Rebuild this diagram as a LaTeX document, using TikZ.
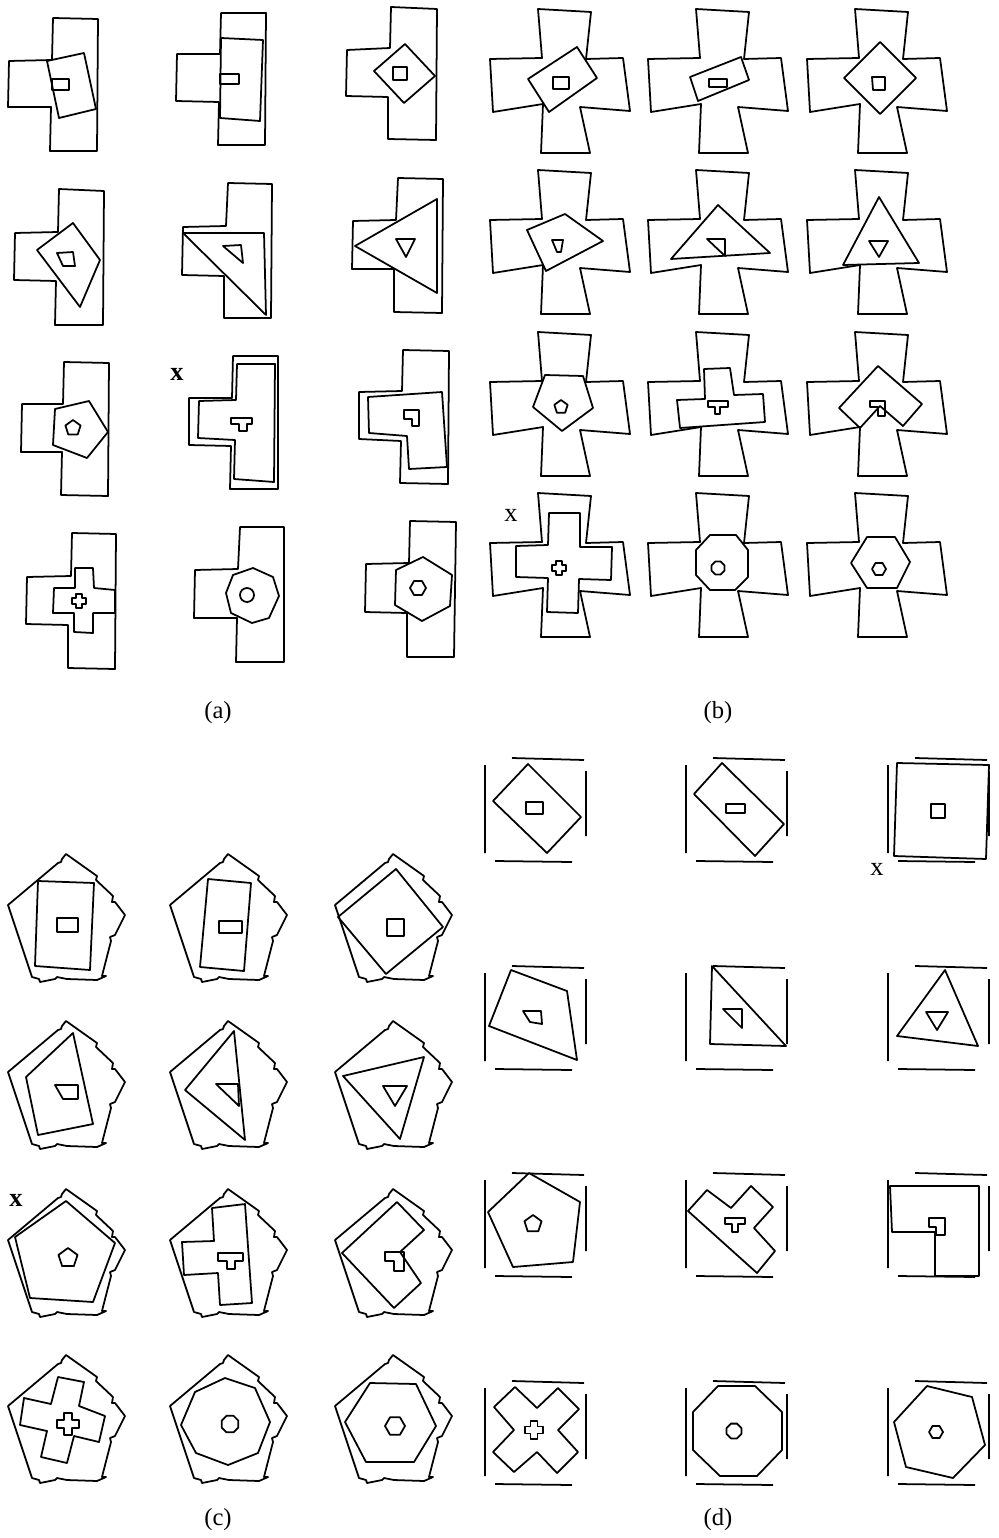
\documentclass[tikz,border=0pt]{standalone}
\usepackage{fontspec}
\setmainfont{Liberation Serif}

% container outlines, in pixels from the cell origin
\newcommand{\crossbox}{%
  \draw[wall] (58,9) -- (111,12) -- (106,59) -- (143,58) -- (150,111) -- (100,107)
    -- (110,153) -- (61,153) -- (63,104) -- (13,112) -- (10,59) -- (62,58) -- cycle;}
\newcommand{\pentbox}{%
  \draw[wall] (66,34) -- (97,56) -- (96,60) -- (113,76) -- (112,82) -- (115,82)
    -- (125,95) -- (115,115) -- (110,117) -- (111,121) -- (103,152) -- (102,156)
    -- (106,156) -- (97,160) -- (67,159) -- (57,157) -- (55,159) -- (40,162)
    -- (39,159) -- (32,157) -- (8,85) -- (58,43) -- (61,42) -- (62,39) -- cycle;}
\newcommand{\squarebox}{%
  \draw[wall] (42,8) -- (114,10) (116,21) -- (116,86) (25,111) -- (102,112) (15,15) -- (15,103);}
% small regular polygon: centre, radius, sides, first angle
\newcommand{\holegon}[4]{%
  \draw[hole,shift={#1}] (#4:#2) \foreach \k in {1,...,#3}{ -- ({#4+\k*360/#3}:#2)} -- cycle;}
% small plus sign: centre, half width, half length
\newcommand{\holeplus}[3]{%
  \draw[hole,shift={#1}] (-#2,-#3) -- (#2,-#3) -- (#2,-#2) -- (#3,-#2) -- (#3,#2) -- (#2,#2)
    -- (#2,#3) -- (-#2,#3) -- (-#2,#2) -- (-#3,#2) -- (-#3,-#2) -- (-#2,-#2) -- cycle;}

\begin{document}
\begin{tikzpicture}[x=0.2mm,y=-0.2mm,
  wall/.style={line width=1pt,line join=round},
  piece/.style={line width=1pt,line join=round},
  hole/.style={line width=1pt,line join=round},
  tag/.style={font=\fontsize{14}{16}\selectfont},
  cue/.style={font=\fontsize{15}{17}\selectfont},
  boldcue/.style={font=\bfseries\fontsize{15}{17}\selectfont}]
  \useasboundingbox (0,0) rectangle (999,1538);

  % (a) T-shaped containers
  \draw[wall] (53,18) -- (98,19) -- (97,151) -- (50,151) -- (51,107) -- (8,107) -- (9,61) -- (52,60) -- cycle;
  \draw[piece] (47,61) -- (84,53) -- (96,109) -- (59,118) -- cycle;
  \draw[hole] (52,79) rectangle (69,90);

  \draw[wall] (221,13) -- (266,13) -- (265,145) -- (218,145) -- (219,102) -- (176,101) -- (177,54) -- (220,54) -- cycle;
  \draw[piece] (221,38) -- (263,40) -- (260,121) -- (220,118) -- cycle;
  \draw[hole] (220,74) rectangle (239,84);

  \draw[wall] (391,7) -- (437,9) -- (436,140) -- (388,139) -- (388,97) -- (346,96) -- (347,50) -- (390,48) -- cycle;
  \draw[piece] (405,44) -- (435,76) -- (404,103) -- (374,71) -- cycle;
  \draw[hole] (393,67) rectangle (407,80);

  \draw[wall] (59,189) -- (104,191) -- (103,325) -- (55,325) -- (56,281) -- (14,280) -- (15,233) -- (58,232) -- cycle;
  \draw[piece] (37,250) -- (73,223) -- (100,260) -- (80,307) -- cycle;
  \draw[hole] (57,253) -- (73,252) -- (75,266) -- (63,266) -- cycle;

  \draw[wall] (228,183) -- (272,184) -- (271,318) -- (224,318) -- (224,276) -- (182,275) -- (183,227) -- (226,226) -- cycle;
  \draw[piece] (183,233) -- (264,233) -- (266,315) -- cycle;
  \draw[hole] (223,246) -- (241,245) -- (243,263) -- cycle;

  \draw[wall] (398,178) -- (443,179) -- (442,313) -- (394,312) -- (394,269) -- (352,269) -- (353,221) -- (396,220) -- cycle;
  \draw[piece] (437,199) -- (355,246) -- (437,293) -- cycle;
  \draw[hole] (396,239) -- (415,239) -- (406,257) -- cycle;

  \draw[wall] (64,362) -- (109,363) -- (108,496) -- (61,495) -- (62,452) -- (21,452) -- (22,404) -- (63,404) -- cycle;
  \draw[piece] (55,409) -- (89,401) -- (108,432) -- (87,458) -- (53,445) -- cycle;
  \holegon{(73,428)}{8}{5}{-90}

  \node[boldcue] (xa) at (177,374) {x};
  \draw[wall] (233,356) -- (278,356) -- (278,489) -- (230,489) -- (231,446) -- (189,445) -- (189,398) -- (232,398) -- cycle;
  \draw[piece] (237,364) -- (275,364) -- (274,482) -- (234,479) -- (235,440) -- (198,438) -- (199,401) -- (236,400) -- cycle;
  \draw[hole] (231,418) -- (252,418) -- (252,424) -- (247,424) -- (247,431) -- (239,431) -- (239,424) -- (231,424) -- cycle;

  \draw[wall] (403,350) -- (449,351) -- (448,484) -- (400,483) -- (401,441) -- (359,439) -- (359,392) -- (402,391) -- cycle;
  \draw[piece] (368,397) -- (442,392) -- (447,467) -- (409,469) -- (407,436) -- (369,433) -- cycle;
  \draw[hole] (404,410) -- (419,410) -- (419,426) -- (412,426) -- (412,419) -- (404,419) -- cycle;

  \draw[wall] (72,533) -- (116,534) -- (115,669) -- (68,668) -- (68,625) -- (26,624) -- (27,577) -- (71,576) -- cycle;
  \draw[piece] (75,568) -- (93,568) -- (94,588) -- (115,590) -- (115,613) -- (93,613) -- (93,633) -- (74,632)
    -- (74,613) -- (53,613) -- (54,588) -- (75,588) -- cycle;
  \holeplus{(79,601)}{3}{7}

  \draw[wall] (240,527) -- (284,527) -- (284,662) -- (236,662) -- (237,618) -- (194,618) -- (195,570) -- (238,569) -- cycle;
  \draw[piece] (253,568) -- (273,577) -- (279,596) -- (269,618) -- (252,623) -- (231,613) -- (226,593) -- (233,575) -- cycle;
  \draw[hole] (247,595) circle[radius=7];

  \draw[wall] (410,521) -- (456,522) -- (454,657) -- (407,657) -- (407,613) -- (365,612) -- (366,564) -- (409,563) -- cycle;
  \draw[piece] (423,557) -- (452,575) -- (450,606) -- (422,621) -- (395,605) -- (396,570) -- cycle;
  \holegon{(418,588)}{8}{6}{0}

  % (b) cross containers
  \begin{scope}[shift={(480,0)}]
    \crossbox
    \draw[piece] (48,79) -- (97,47) -- (117,78) -- (69,112) -- cycle;
    \draw[hole] (73,77) rectangle (89,89);
  \end{scope}
  \begin{scope}[shift={(638,0)}]
    \crossbox
    \draw[piece] (52,77) -- (103,57) -- (111,80) -- (60,101) -- cycle;
    \draw[hole] (71,79) rectangle (89,87);
  \end{scope}
  \begin{scope}[shift={(797,0)}]
    \crossbox
    \draw[piece] (83,42) -- (119,78) -- (83,114) -- (47,78) -- cycle;
    \draw[hole] (75,77) -- (88,77) -- (88,90) -- (76,90) -- cycle;
  \end{scope}

  \begin{scope}[shift={(480,161)}]
    \crossbox
    \draw[piece] (47,69) -- (85,53) -- (123,80) -- (66,110) -- cycle;
    \draw[hole] (72,79) -- (83,79) -- (81,91) -- (77,91) -- cycle;
  \end{scope}
  \begin{scope}[shift={(638,161)}]
    \crossbox
    \draw[piece] (80,44) -- (132,92) -- (33,98) -- cycle;
    \draw[hole] (69,78) -- (87,78) -- (87,95) -- cycle;
  \end{scope}
  \begin{scope}[shift={(797,161)}]
    \crossbox
    \draw[piece] (82,36) -- (122,102) -- (46,104) -- cycle;
    \draw[hole] (72,80) -- (91,80) -- (82,96) -- cycle;
  \end{scope}

  \begin{scope}[shift={(480,323)}]
    \crossbox
    \draw[piece] (65,52) -- (103,53) -- (113,85) -- (82,108) -- (53,84) -- cycle;
    \holegon{(81,84)}{7}{5}{-90}
  \end{scope}
  \begin{scope}[shift={(638,323)}]
    \crossbox
    \draw[piece] (66,46) -- (92,45) -- (96,72) -- (125,71) -- (127,99) -- (42,105) -- (39,77) -- (67,76) -- cycle;
    \draw[hole] (70,78) -- (90,78) -- (90,84) -- (82,84) -- (82,91) -- (77,91) -- (77,84) -- (70,84) -- cycle;
  \end{scope}
  \begin{scope}[shift={(797,323)}]
    \crossbox
    \draw[piece] (42,85) -- (81,43) -- (125,81) -- (106,103) -- (83,83) -- (63,105) -- cycle;
    \draw[hole] (73,78) -- (88,78) -- (88,93) -- (81,93) -- (81,84) -- (73,84) -- cycle;
  \end{scope}

  \begin{scope}[shift={(480,484)}]
    \node[cue] (xb) at (31,31) {x};
    \crossbox
    \draw[piece] (69,29) -- (100,29) -- (100,63) -- (132,63) -- (131,96) -- (99,95) -- (98,129) -- (67,128)
      -- (68,94) -- (36,93) -- (36,62) -- (68,61) -- cycle;
    \holeplus{(79,84)}{3}{7}
  \end{scope}
  \begin{scope}[shift={(638,484)}]
    \crossbox
    \draw[piece] (72,51) -- (98,51) -- (110,66) -- (110,93) -- (97,106) -- (72,106) -- (58,91) -- (58,66) -- cycle;
    \holegon{(80,84)}{7}{8}{22.5}
  \end{scope}
  \begin{scope}[shift={(797,484)}]
    \crossbox
    \draw[piece] (70,53) -- (98,53) -- (113,78) -- (100,104) -- (70,104) -- (54,79) -- cycle;
    \holegon{(82,85)}{7}{6}{0}
  \end{scope}

  % (c) jagged pentagon containers
  \begin{scope}[shift={(0,820)}]
    \pentbox
    \draw[piece] (38,61) -- (94,63) -- (90,150) -- (35,146) -- cycle;
    \draw[hole] (57,98) rectangle (78,112);
  \end{scope}
  \begin{scope}[shift={(162,820)}]
    \pentbox
    \draw[piece] (46,59) -- (89,63) -- (82,151) -- (38,147) -- cycle;
    \draw[hole] (57,101) rectangle (80,113);
  \end{scope}
  \begin{scope}[shift={(327,820)}]
    \pentbox
    \draw[piece] (11,97) -- (69,49) -- (116,107) -- (59,154) -- cycle;
    \draw[hole] (60,99) rectangle (77,116);
  \end{scope}

  \begin{scope}[shift={(0,987)}]
    \pentbox
    \draw[piece] (26,90) -- (73,46) -- (93,137) -- (38,148) -- cycle;
    \draw[hole] (55,98) -- (78,98) -- (78,112) -- (63,112) -- cycle;
  \end{scope}
  \begin{scope}[shift={(162,987)}]
    \pentbox
    \draw[piece] (72,44) -- (23,103) -- (83,153) -- cycle;
    \draw[hole] (54,97) -- (76,97) -- (77,119) -- cycle;
  \end{scope}
  \begin{scope}[shift={(327,987)}]
    \pentbox
    \draw[piece] (16,89) -- (97,70) -- (73,152) -- cycle;
    \draw[hole] (56,99) -- (80,99) -- (68,119) -- cycle;
  \end{scope}

  \begin{scope}[shift={(0,1155)}]
    \node[boldcue] (xc) at (16,45) {x};
    \pentbox
    \draw[piece] (66,46) -- (115,88) -- (93,147) -- (30,143) -- (15,82) -- cycle;
    \holegon{(68,103)}{10}{5}{-90}
  \end{scope}
  \begin{scope}[shift={(162,1155)}]
    \pentbox
    \draw[piece] (50,53) -- (83,49) -- (90,148) -- (58,150) -- (56,118) -- (22,120) -- (20,87) -- (52,86) -- cycle;
    \draw[hole] (56,98) -- (81,98) -- (81,106) -- (73,106) -- (73,114) -- (65,114) -- (65,106) -- (56,106) -- cycle;
  \end{scope}
  \begin{scope}[shift={(327,1155)}]
    \pentbox
    \draw[piece] (15,98) -- (70,47) -- (97,75) -- (73,97) -- (94,128) -- (67,153) -- cycle;
    \draw[hole] (58,97) -- (77,97) -- (77,116) -- (67,116) -- (67,106) -- (58,106) -- cycle;
  \end{scope}

  \begin{scope}[shift={(0,1321)}]
    \pentbox
    \draw[piece] (58,56) -- (84,61) -- (79,85) -- (105,95) -- (99,121) -- (74,115) -- (67,142) -- (41,136)
      -- (47,110) -- (20,104) -- (24,77) -- (51,83) -- cycle;
    \holeplus{(68,103)}{4}{11}
  \end{scope}
  \begin{scope}[shift={(162,1321)}]
    \pentbox
    \draw[piece] (63,57) -- (93,67) -- (108,101) -- (96,132) -- (66,144) -- (34,132) -- (19,104) -- (33,71) -- cycle;
    \holegon{(68,103)}{9}{8}{22.5}
  \end{scope}
  \begin{scope}[shift={(327,1321)}]
    \pentbox
    \draw[piece] (43,62) -- (89,63) -- (109,105) -- (87,141) -- (39,141) -- (18,101) -- cycle;
    \holegon{(68,105)}{10}{6}{0}
  \end{scope}

  % (d) open square containers
  \begin{scope}[shift={(470,750)}]
    \squarebox
    \draw[piece] (23,51) -- (58,14) -- (111,67) -- (77,103) -- cycle;
    \draw[hole] (56,52) rectangle (73,64);
  \end{scope}
  \begin{scope}[shift={(671,750)}]
    \squarebox
    \draw[piece] (23,44) -- (51,13) -- (113,74) -- (84,106) -- cycle;
    \draw[hole] (55,54) rectangle (74,63);
  \end{scope}
  \begin{scope}[shift={(873,750)}]
    \node[cue] (xd) at (4,119) {x};
    \squarebox
    \draw[piece] (24,13) -- (116,15) -- (113,109) -- (21,106) -- cycle;
    \draw[hole] (58,54) rectangle (72,68);
  \end{scope}

  \begin{scope}[shift={(470,958)}]
    \squarebox
    \draw[piece] (41,12) -- (97,33) -- (107,102) -- (19,68) -- cycle;
    \draw[hole] (53,53) -- (71,53) -- (72,66) -- (60,64) -- cycle;
  \end{scope}
  \begin{scope}[shift={(671,958)}]
    \squarebox
    \draw[piece] (41,8) -- (115,88) -- (39,86) -- cycle;
    \draw[hole] (52,51) -- (71,51) -- (71,70) -- cycle;
  \end{scope}
  \begin{scope}[shift={(873,958)}]
    \squarebox
    \draw[piece] (72,12) -- (105,88) -- (24,78) -- cycle;
    \draw[hole] (53,54) -- (75,54) -- (64,72) -- cycle;
  \end{scope}

  \begin{scope}[shift={(470,1165)}]
    \squarebox
    \draw[piece] (59,8) -- (110,37) -- (103,97) -- (43,102) -- (18,47) -- cycle;
    \holegon{(63,59)}{9}{5}{-90}
  \end{scope}
  \begin{scope}[shift={(671,1165)}]
    \squarebox
    \draw[piece] (17,46) -- (36,25) -- (60,43) -- (80,21) -- (102,42) -- (83,63) -- (104,86) -- (86,108) -- cycle;
    \draw[hole] (54,53) -- (74,53) -- (74,59) -- (67,59) -- (67,67) -- (61,67) -- (61,59) -- (54,59) -- cycle;
  \end{scope}
  \begin{scope}[shift={(873,1165)}]
    \squarebox
    \draw[piece] (17,21) -- (106,21) -- (106,111) -- (62,111) -- (62,67) -- (19,67) -- cycle;
    \draw[hole] (56,53) -- (72,53) -- (72,70) -- (63,70) -- (63,62) -- (56,62) -- cycle;
  \end{scope}

  \begin{scope}[shift={(470,1373)}]
    \squarebox
    \draw[piece] (24,34) -- (45,14) -- (67,35) -- (88,15) -- (109,36) -- (88,57) -- (108,79) -- (87,100)
      -- (67,79) -- (44,99) -- (23,79) -- (44,57) -- cycle;
    \holeplus{(64,57)}{3.5}{9}
  \end{scope}
  \begin{scope}[shift={(671,1373)}]
    \squarebox
    \draw[piece] (47,13) -- (84,13) -- (111,39) -- (111,77) -- (86,103) -- (49,103) -- (22,77) -- (22,39) -- cycle;
    \holegon{(63,58)}{8}{8}{22.5}
  \end{scope}
  \begin{scope}[shift={(873,1373)}]
    \squarebox
    \draw[piece] (54,13) -- (99,24) -- (112,72) -- (80,105) -- (33,94) -- (21,49) -- cycle;
    \holegon{(63,59)}{7}{6}{0}
  \end{scope}

  % panel captions
  \node[tag] (lab-a) at (218,713) {(a)};
  \node[tag] (lab-b) at (718,713) {(b)};
  \node[tag] (lab-c) at (218,1520) {(c)};
  \node[tag] (lab-d) at (718,1520) {(d)};
\end{tikzpicture}
\end{document}
